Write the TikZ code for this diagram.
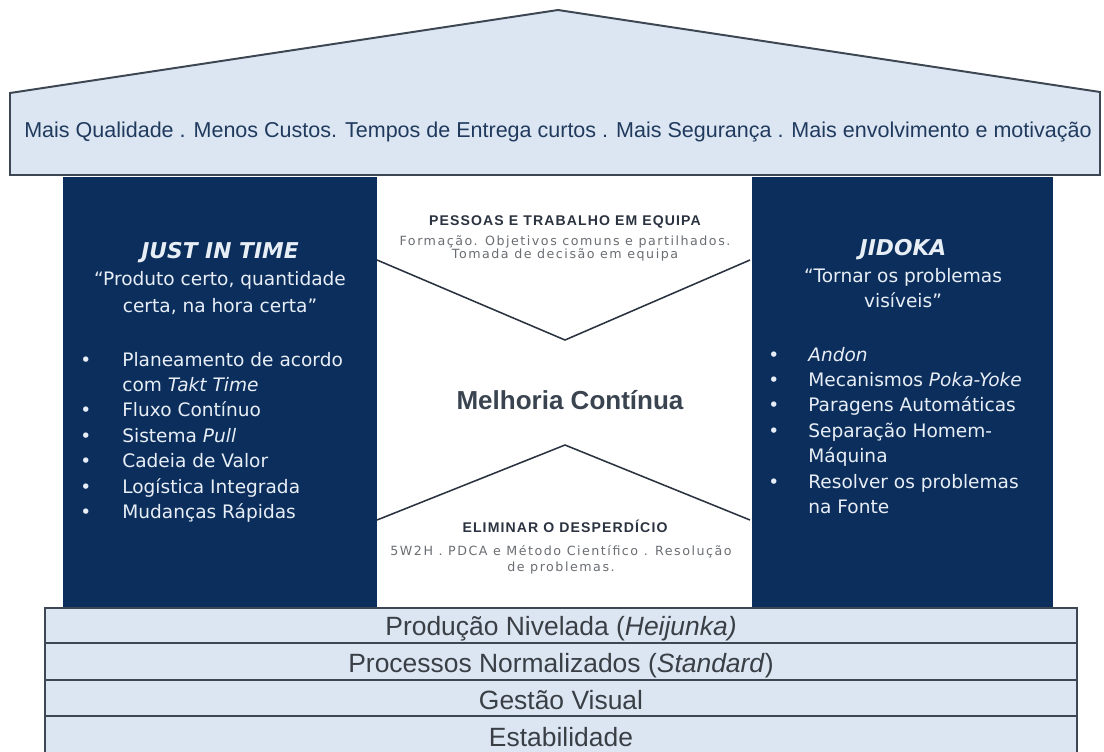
\documentclass[tikz,border=0pt]{standalone}
\usepackage{fontspec}
\setmainfont{Liberation Sans}
\newfontfamily\pillarfont{DejaVu Sans}
\newfontfamily\spacedfont{DejaVu Sans}[LetterSpace=12]
\newfontfamily\headfont{Liberation Sans}[LetterSpace=8]
\usetikzlibrary{positioning}

\definecolor{navy}{HTML}{0B2E5C}
\definecolor{bandblue}{HTML}{DCE6F2}
\definecolor{edge}{HTML}{3D4753}
\definecolor{chevline}{HTML}{2B3340}
\definecolor{roofink}{HTML}{203A5E}
\definecolor{baseink}{HTML}{3A3F46}
\definecolor{pillarink}{HTML}{E8EEF6}
\definecolor{centerink}{HTML}{3A4450}
\definecolor{softgray}{HTML}{6A6E73}

\begin{document}
\begin{tikzpicture}[
    x=0.025cm, y=-0.025cm,
    every node/.style={inner sep=0pt},
    roof/.style={fill=bandblue, draw=edge, line width=1.4pt, line join=miter},
    band/.style={fill=bandblue, draw=edge, line width=1.4pt},
    chevron/.style={draw=chevline, line width=1.1pt},
    rooftext/.style={text=roofink, font=\fontsize{15.3}{18}\selectfont},
    basetext/.style={text=baseink, font=\fontsize{18.8}{22}\selectfont},
    pillartitle/.style={text=pillarink, font=\pillarfont\bfseries\itshape\fontsize{15.5}{18}\selectfont},
    pillarquote/.style={text=pillarink, font=\pillarfont\fontsize{13.2}{#1}\selectfont},
    pillarlist/.style={text=pillarink, font=\pillarfont\fontsize{13.2}{18.1}\selectfont},
    centerhead/.style={text=chevline, font=\headfont\bfseries\fontsize{10}{12}\selectfont},
    centersub/.style={text=softgray, font=\spacedfont\fontsize{9}{#1}\selectfont},
    bigcenter/.style={text=centerink, font=\bfseries\fontsize{18.5}{22}\selectfont}
]
\useasboundingbox (0,0) rectangle (1104,751);
\clip (0,0) rectangle (1104,751);

% === ROOF ===
\draw[roof] (10,175) -- (10,93) -- (558,10) -- (1100,92) -- (1100,175) -- cycle;
\node[rooftext, anchor=base] (benefits) at (558,137)
    {Mais Qualidade . Menos Custos. Tempos de Entrega curtos . Mais Segurança . Mais envolvimento e motivação};

% === PILLARS ===
\fill[navy] (63,177) rectangle (377,608);
\fill[white] (377,177) rectangle (750,608);
\fill[navy] (752,177) rectangle (1053,608);

% === CENTRE CHEVRONS ===
\draw[chevron] (377,260) -- (565,340) -- (750,260);
\draw[chevron] (377,520) -- (565,445) -- (750,520);

% === FOUNDATION BANDS ===
\draw[band] (45,608) rectangle (1077,643);
\draw[band] (45,643) rectangle (1077,680);
\draw[band] (45,680) rectangle (1077,716);
\draw[band] (45,716) rectangle (1077,765);

\node[basetext, anchor=base] (heijunka) at (561,635) {Produção Nivelada (\textit{Heijunka)}};
\node[basetext, anchor=base] (standard) at (561,672) {Processos Normalizados (\textit{Standard})};
\node[basetext, anchor=base] (visual) at (561,709) {Gestão Visual};
\node[basetext, anchor=base] (stability) at (561,746) {Estabilidade};

% === LEFT PILLAR: JUST IN TIME ===
\node[pillartitle, anchor=base] (jit) at (220,258) {JUST IN TIME};
\node[pillarquote=19.2pt, anchor=base] (jitquote) at (220,285)
    {\begin{tabular}[t]{@{}c@{}}“Produto certo, quantidade\\certa, na hora certa”\end{tabular}};
\node[pillarlist, anchor=base west] (jitlist) at (80,366)
    {\begin{tabular}[t]{@{}p{29.9pt}@{}l@{}}
    • & Planeamento de acordo\\
      & com \textit{Takt Time}\\
    • & Fluxo Contínuo\\
    • & Sistema \textit{Pull}\\
    • & Cadeia de Valor\\
    • & Logística Integrada\\
    • & Mudanças Rápidas
    \end{tabular}};

% === RIGHT PILLAR: JIDOKA ===
\node[pillartitle, anchor=base] (jidoka) at (903,255) {JIDOKA};
\node[pillarquote=17.8pt, anchor=base] (jidokaquote) at (903,282)
    {\begin{tabular}[t]{@{}c@{}}“Tornar os problemas\\visíveis”\end{tabular}};
\node[pillarlist, anchor=base west] (jidokalist) at (768,361)
    {\begin{tabular}[t]{@{}p{28.5pt}@{}l@{}}
    • & \textit{Andon}\\
    • & Mecanismos \textit{Poka-Yoke}\\
    • & Paragens Automáticas\\
    • & Separação Homem-\\
      & Máquina\\
    • & Resolver os problemas\\
      & na Fonte
    \end{tabular}};

% === CENTRE: MELHORIA CONTINUA ===
\node[centerhead, anchor=base] (people) at (565,225) {PESSOAS E TRABALHO EM EQUIPA};
\node[centersub=9.6pt, anchor=base] (peoplesub) at (565,245)
    {\begin{tabular}[t]{@{}c@{}}Formação. Objetivos comuns e partilhados.\\Tomada de decisão em equipa\end{tabular}};
\node[bigcenter, anchor=base] (kaizen) at (570,409) {Melhoria Contínua};
\node[centerhead, anchor=base] (waste) at (565,532) {ELIMINAR O DESPERDÍCIO};
\node[centersub=11.4pt, anchor=base] (wastesub) at (561,555)
    {\begin{tabular}[t]{@{}c@{}}5W2H . PDCA e Método Científico . Resolução\\de problemas.\end{tabular}};

\end{tikzpicture}
\end{document}
